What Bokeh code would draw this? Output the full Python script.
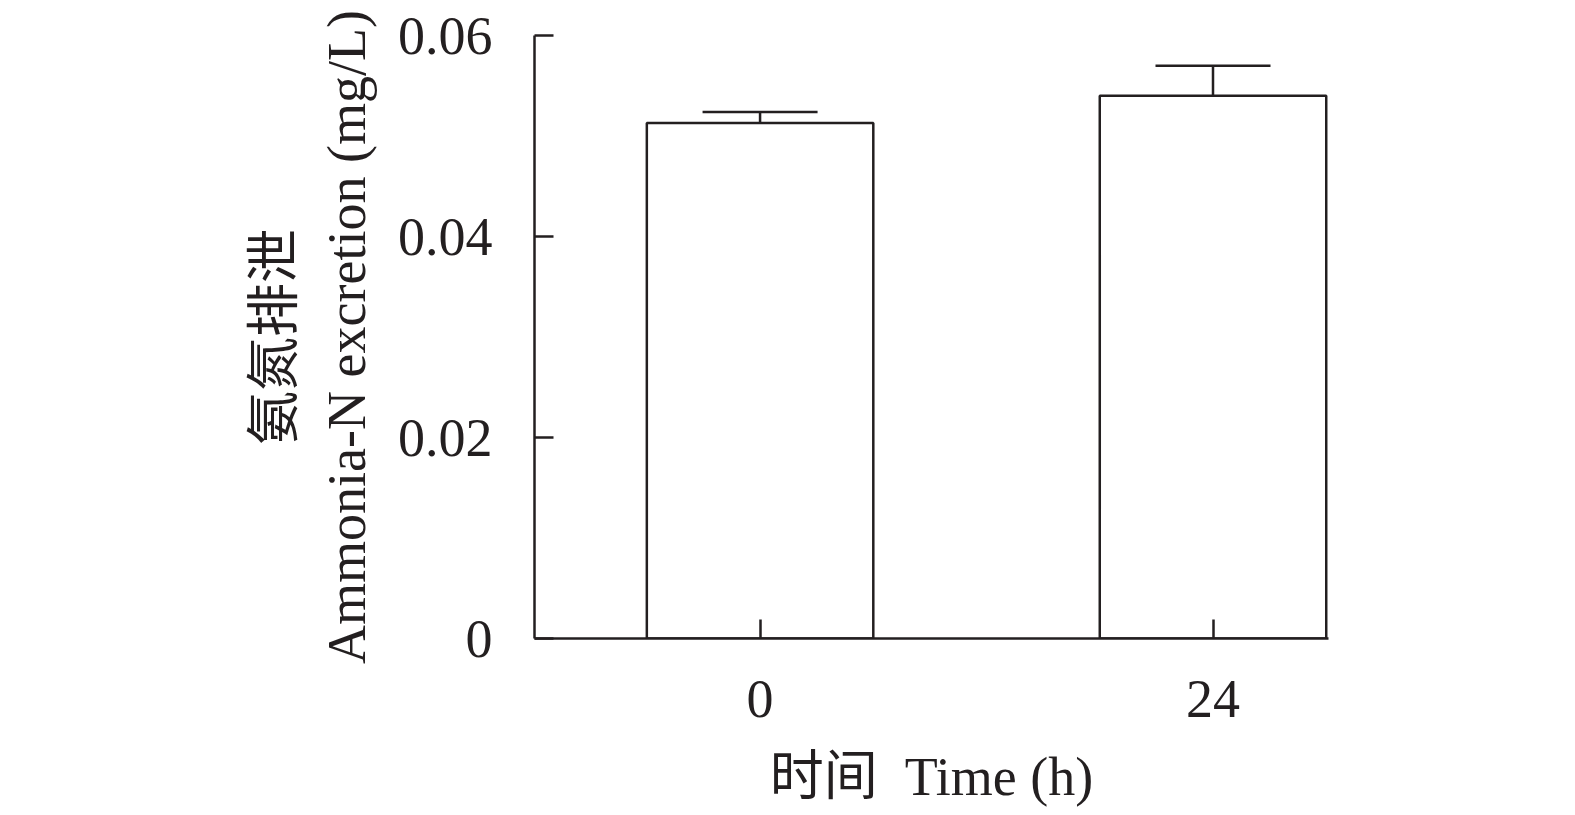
from bokeh.plotting import figure
from bokeh.models import Range1d, FixedTicker, CustomJSTickFormatter, Whisker, TeeHead, ColumnDataSource
from bokeh.embed import file_html
from bokeh.resources import INLINE

categories = ["0", "24"]
means = [0.0513, 0.0540]
errors = [0.0011, 0.0030]
y_ticks = [0, 0.02, 0.04, 0.06]

xpos = list(range(len(categories)))
src = ColumnDataSource(dict(
    x=xpos,
    top=means,
    upper=[m + e for m, e in zip(means, errors)],
))

FONT = "'Liberation Serif', 'Times New Roman', 'Noto Sans CJK SC', serif"
FS = "54px"

p = figure(
    frame_width=794, frame_height=603,
    min_border_left=534, min_border_top=35, min_border_right=20, min_border_bottom=10,
    x_range=Range1d(-0.498, 1.255), y_range=Range1d(0, 0.06),
    output_backend="svg", toolbar_location=None,
)
p.outline_line_color = None
p.xgrid.visible = False
p.ygrid.visible = False
p.background_fill_color = "white"
p.border_fill_color = "white"

p.vbar(x="x", top="top", bottom=0, width=0.5, source=src,
       fill_color="white", line_color="#231f20", line_width=2.5)

w = Whisker(base="x", upper="upper", lower="top", source=src,
            line_color="#231f20", line_width=2.5,
            upper_head=TeeHead(size=115, line_color="#231f20", line_width=2.5),
            lower_head=None)
p.add_layout(w)

for ax in (p.xaxis[0], p.yaxis[0]):
    ax.axis_line_width = 2.5
    ax.axis_line_color = "#231f20"
    ax.major_tick_line_width = 2.5
    ax.major_tick_line_color = "#231f20"
    ax.major_tick_in = 19
    ax.major_tick_out = 0
    ax.minor_tick_line_color = None
    ax.major_label_text_font = FONT
    ax.major_label_text_font_size = FS
    ax.major_label_text_color = "#231f20"
    ax.axis_label_text_font = FONT
    ax.axis_label_text_font_size = FS
    ax.axis_label_text_font_style = "normal"
    ax.axis_label_text_color = "#231f20"

p.xaxis.ticker = FixedTicker(ticks=xpos)
p.xaxis.major_label_overrides = {i: c for i, c in zip(xpos, categories)}
p.xaxis.major_label_standoff = 42
p.xaxis.axis_label = "时间\u00a0\u00a0Time (h)"
p.xaxis.axis_label_standoff = 27

p.yaxis.ticker = FixedTicker(ticks=y_ticks)
p.yaxis.formatter = CustomJSTickFormatter(code="return tick == 0 ? '0' : tick.toFixed(2);")
p.yaxis.major_label_standoff = 42
p.yaxis.axis_label = "氨氮排泄\nAmmonia-N excretion (mg/L)"
p.yaxis.axis_label_standoff = 18

open("out.html", "w").write(file_html(p, INLINE))
